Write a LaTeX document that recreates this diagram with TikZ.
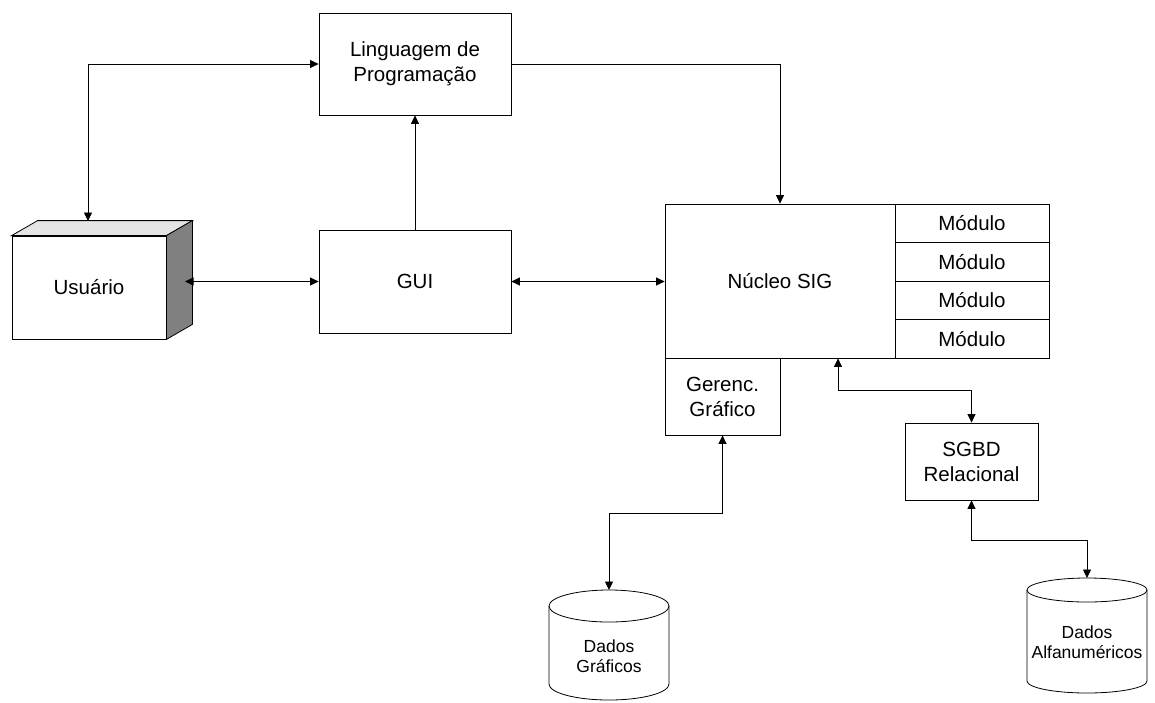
\documentclass[tikz,border=0pt]{standalone}
\usepackage{fontspec}
\setmainfont{Liberation Sans}
\usetikzlibrary{arrows.meta}
\begin{document}
\begin{tikzpicture}[x=1pt,y=-1pt,
  line width=0.8pt,
  box/.style={draw,line width=0.8pt,inner sep=0pt,align=center,font=\fontsize{20.5}{25}\selectfont},
  dbtext/.style={inner sep=0pt,align=center,font=\fontsize{17.5}{19.5}\selectfont},
  conn/.style={line width=0.8pt,{Triangle[length=8.5pt,width=8pt]}-{Triangle[length=8.5pt,width=8pt]}},
  conr/.style={line width=0.8pt,-{Triangle[length=8.5pt,width=8pt]}}]
\useasboundingbox (0,0) rectangle (1155,702);

% nodes
\node[box,minimum width=192pt,minimum height=102pt] (ling) at (415,64) {Linguagem de\\Programação};
\node[box,minimum width=192pt,minimum height=103pt] (gui) at (415,281.5) {GUI};
\node[box,minimum width=154pt,minimum height=103pt] (usu) at (89,287.5) {Usuário};
\node[box,minimum width=230pt,minimum height=154pt] (nuc) at (780,281) {Núcleo SIG};
\node[box,minimum width=154pt,minimum height=38.5pt] (m1) at (972,223.25) {Módulo};
\node[box,minimum width=154pt,minimum height=38.5pt] (m2) at (972,261.75) {Módulo};
\node[box,minimum width=154pt,minimum height=38.5pt] (m3) at (972,300.25) {Módulo};
\node[box,minimum width=154pt,minimum height=38.5pt] (m4) at (972,338.75) {Módulo};
\node[box,minimum width=115pt,minimum height=77pt] (ger) at (722.5,396.5) {Gerenc.\\Gráfico};
\node[box,minimum width=133pt,minimum height=77pt] (sgbd) at (971.5,461.5) {SGBD\\Relacional};

% 3D faces of Usuário
\draw[fill=black!10] (usu.north west) -- ++(26,-15) -- ([shift={(26,-15)}]usu.north east) -- (usu.north east) -- cycle;
\draw[fill=black!50] (usu.north east) -- ++(26,-15) -- ([shift={(26,-15)}]usu.south east) -- (usu.south east) -- cycle;
\coordinate (usutop) at (88,221);
\coordinate (ususide) at (185,281.5);

% cylinders
\draw[fill=white] (549,606) -- (549,684) arc[start angle=180,end angle=360,x radius=60pt,y radius=16pt] -- (669,606);
\draw (609,606) ellipse [x radius=60pt,y radius=16pt];
\coordinate (dgtop) at (609,590);
\node[dbtext] (dg) at (609,656) {Dados\\Gráficos};

\draw[fill=white] (1027,590) -- (1027,681) arc[start angle=180,end angle=360,x radius=60pt,y radius=12pt] -- (1147,590);
\draw (1087,590) ellipse [x radius=60pt,y radius=12pt];
\coordinate (datop) at (1087,578);
\node[dbtext] (da) at (1087,642) {Dados\\Alfanuméricos};

% connectors
\draw[conn] (usutop) |- (ling.west);
\draw[conr] (gui.north) -- (ling.south);
\draw[conr] (ling.east) -| (nuc.north);
\draw[conn] (ususide) -- (gui.west);
\draw[conn] (gui.east) -- (gui.east -| nuc.west);
\draw[conn] (ger.south) -- ++(0,78) -| (dgtop);
\draw[conn] ([xshift=58pt]nuc.south) -- ++(0,32) -| (sgbd.north);
\draw[conn] (sgbd.south) -- ++(0,40) -| (datop);
\end{tikzpicture}
\end{document}
